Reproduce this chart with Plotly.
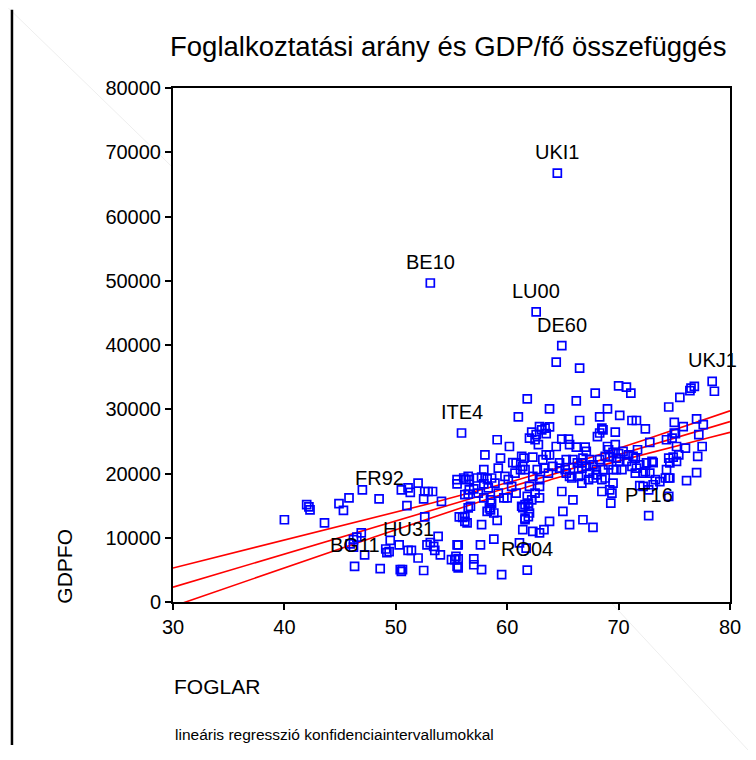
import numpy as np
import plotly.graph_objects as go

# Labelled regions (first entries of the data arrays)
label_codes = ["UKI1", "BE10", "LU00", "DE60", "UKJ1", "ITE4", "FR92", "HU31", "BG11", "RO04", "PT16"]

# FOGLAR (employment rate, %)
foglar = [
    64.5, 53.1, 62.6, 64.9, 78.4, 55.9, 48.5, 51.1, 46.3, 61.8, 72.7,
    64.4, 66.5, 78.6, 76.4, 76.5, 76.8, 75.5, 74.5, 70.0, 70.7, 71.1, 67.9, 61.8, 66.2,
    63.8, 69.0, 61.0, 66.5, 68.3, 70.1, 71.2, 71.6, 72.4, 68.5, 68.6, 68.3, 68.1, 69.7,
    62.2, 62.6, 63.1, 63.5, 63.8, 63.4, 62.9, 62.5, 62.8, 62.0, 59.1, 60.2, 58.0, 59.4,
    59.2, 60.5, 61.5, 62.3, 61.4, 63.8, 64.4, 64.9, 65.5, 65.6, 66.2, 67.0, 67.1, 72.8,
    74.3, 75.0, 75.0, 75.8, 77.0, 77.6, 77.5, 77.1, 76.0, 77.2, 75.1, 74.8, 75.2,
    69.1, 69.5, 70.0, 70.4, 70.9, 71.3, 71.7, 71.5, 69.8, 69.2, 70.1, 70.7,
    74.5, 74.9, 75.4, 74.6, 75.2, 74.3, 73.1, 71.9, 72.4, 72.8, 73.3, 73.7, 74.5, 76.1,
    77.0, 74.5, 71.9, 72.2, 66.4, 66.7, 67.1, 67.4, 68.0, 68.6, 68.8, 67.7, 67.3, 68.5,
    69.2, 69.4, 69.3, 65.8, 66.7, 65.9, 64.9, 65.0, 63.8, 63.3, 62.3, 61.4, 61.6, 61.9,
    62.2, 62.9, 62.5, 66.8, 67.7, 65.6, 58.8, 59.5, 57.7, 57.0, 57.0, 55.6, 55.6, 55.6,
    55.3, 57.6, 59.1, 57.7, 56.4, 56.2, 56.2, 56.7, 58.2, 58.6, 58.5, 57.9,
    40.0, 42.0, 42.2, 42.3, 43.6, 44.9, 45.8, 45.3, 47.0, 50.5, 51.1, 51.3, 52.0, 51.0,
    52.6, 52.9, 53.3, 52.5, 54.1, 55.5, 56.1, 56.3, 56.5, 56.5, 56.0, 56.2, 52.6, 55.7,
    46.9, 46.5, 46.2, 45.9, 46.2, 47.2, 48.6, 49.5, 49.1, 49.2, 49.4, 50.3, 51.4, 52.0,
    50.4, 50.6, 50.5, 52.5, 52.8, 53.1, 53.4, 53.5, 53.8, 54.0, 55.0, 55.4, 55.5, 55.5,
    56.5, 57.3, 57.9, 58.2, 58.6, 58.9, 57.9, 57.0, 57.4, 58.3, 59.2, 60.0, 60.4, 60.8,
    61.3, 60.8, 61.6, 60.7, 59.8, 62.3, 62.9, 63.7, 62.0, 62.9, 64.1, 65.2, 65.6, 64.7,
    63.5, 63.2, 62.7, 61.2, 55.5, 56.6, 57.7, 56.6, 60.1, 58.5, 58.4, 59.7, 61.8, 61.6,
    61.4, 61.9, 68.5, 65.3, 66.4, 64.7, 63.3, 66.7, 67.7, 68.0, 65.3, 65.9, 66.8, 67.4,
    68.3, 68.8, 66.3, 69.1, 74.2, 74.6, 72.5, 73.0, 73.1, 72.7, 69.5, 69.7, 69.0, 69.5,
    69.8, 70.3, 71.2, 71.6, 71.5, 72.2, 58.8, 61.3, 61.6, 61.9, 62.0, 62.9, 61.1, 61.7,
]

# GDPFO (GDP per capita)
gdpfo = [
    66750, 49650, 45150, 39900, 34350, 26300, 16050, 8050, 5550, 4950, 13450,
    37350, 36400, 32800, 32900, 33300, 33550, 31850, 30350, 33650, 33450, 32500, 32500, 31600, 31300,
    30050, 30050, 28800, 28250, 28800, 29050, 28250, 28250, 26950, 27050, 26800, 26300, 25750, 26450,
    26450, 26050, 26800, 26200, 27250, 27050, 27300, 25250, 24500, 25500, 25250, 24200, 22900, 22400,
    20850, 21700, 22400, 22550, 21100, 22900, 24200, 25350, 25350, 24500, 24100, 24100, 23450, 24850,
    25250, 26300, 27950, 27300, 28500, 27600, 24200, 22650, 23950, 26050, 26200, 25500, 24200,
    23700, 23300, 23100, 23450, 22900, 22650, 23700, 22400, 22400, 22650, 21900, 21900,
    22400, 22550, 22900, 21650, 21900, 20600, 21700, 21350, 20300, 20050, 19050, 18750, 19300, 18900,
    20150, 16450, 18100, 18000, 20700, 21650, 21100, 20050, 20600, 20600, 19300, 19300, 19050, 17200,
    17450, 16950, 15400, 19300, 18500, 15900, 17200, 14100, 12550, 11250, 11000, 11250, 13050, 14900,
    15900, 16200, 16950, 12800, 11600, 12050, 9800, 4250, 5050, 6700, 5800, 8900, 6700, 5300,
    6600, 8900, 12700, 12050, 12300, 13300, 16700, 14900, 14100, 15400, 14350, 16200,
    12800, 15150, 14800, 14350, 12300, 15300, 16200, 14250, 17450, 17450, 17750, 17050, 18500, 15000,
    17200, 17200, 17200, 16050, 15650, 18400, 19300, 19050, 16800, 14650, 13150, 12550, 13250, 13250,
    10750, 10100, 9700, 9050, 8550, 7350, 5200, 9600, 8250, 7700, 7850, 8900, 8050, 6850,
    5050, 5050, 4750, 4900, 8900, 9250, 8650, 8050, 10200, 7350, 6600, 7100, 5550, 8900,
    19550, 19300, 20600, 19150, 19300, 18500, 18400, 17600, 16950, 17750, 16950, 16200, 18000, 16950,
    22650, 21650, 20600, 20050, 19550, 19550, 19050, 20050, 18000, 18000, 21100, 20600, 19550, 21650,
    22900, 22150, 20600, 20600, 19050, 19050, 19450, 17450, 19050, 15900, 14650, 16200, 16450, 15150,
    14700, 13300, 19050, 20050, 19550, 20850, 20850, 20850, 21350, 19800, 22150, 22150, 22400, 22150,
    22150, 22650, 21650, 21350, 19300, 19300, 21650, 21900, 18250, 17450, 18500, 24500, 24200, 20600,
    20600, 20600, 21100, 20850, 20050, 20050, 13850, 14900, 12800, 15400, 13850, 10750, 9200, 8400,
]

x_range = [30, 80]
y_range = [0, 80000]
x_ticks = [30, 40, 50, 60, 70, 80]
y_ticks = [0, 10000, 20000, 30000, 40000, 50000, 60000, 70000, 80000]

x = np.array(foglar, dtype=float)
y = np.array(gdpfo, dtype=float)
n = len(x)
b1, b0 = np.polyfit(x, y, 1)
resid = y - (b0 + b1 * x)
s = np.sqrt(np.sum(resid ** 2) / (n - 2))
sxx = np.sum((x - x.mean()) ** 2)
t_crit = 1.968
xs = np.linspace(x_range[0], x_range[1], 201)
fit = b0 + b1 * xs
half = t_crit * s * np.sqrt(1.0 / n + (xs - x.mean()) ** 2 / sxx)

fig = go.Figure()
line_style = dict(color="#ff0000", width=1.6)
for yy in (fit + half, fit, fit - half):
    fig.add_trace(go.Scatter(x=xs, y=yy, mode="lines", line=line_style,
                             hoverinfo="skip", showlegend=False))

fig.add_trace(go.Scatter(
    x=foglar, y=gdpfo, mode="markers",
    marker=dict(symbol="square-open", size=8, color="#0000ff",
                line=dict(color="#0000ff", width=1.7)),
    showlegend=False,
))

font_family = "Arial, Liberation Sans, sans-serif"

annotations = []
for i, code in enumerate(label_codes):
    annotations.append(dict(
        x=foglar[i], y=gdpfo[i], xref="x", yref="y", text=code,
        showarrow=False, yshift=21, xanchor="center", yanchor="middle",
        font=dict(family=font_family, size=20, color="#000000"),
    ))

annotations += [
    dict(text="Foglalkoztatási arány és GDP/fő összefüggés", x=0.4946, y=1.0803,
         xref="paper", yref="paper", showarrow=False, xanchor="center", yanchor="middle",
         font=dict(family=font_family, size=27.5, color="#000000")),
    dict(text="FOGLAR", x=-0.0018, y=-0.1648, xref="paper", yref="paper",
         showarrow=False, xanchor="left", yanchor="middle",
         font=dict(family=font_family, size=21, color="#000000")),
    dict(text="GDPFO", x=-0.1939, y=0.0706, xref="paper", yref="paper",
         showarrow=False, xanchor="center", yanchor="middle", textangle=-90,
         font=dict(family=font_family, size=21, color="#000000")),
    dict(text="lineáris regresszió konfidenciaintervallumokkal", x=0.0, y=-0.258,
         xref="paper", yref="paper", showarrow=False, xanchor="left", yanchor="middle",
         font=dict(family=font_family, size=15.5, color="#000000")),
]

shapes = [
    # left page border line
    dict(type="line", xref="paper", yref="paper", x0=-0.2891, x1=-0.2891, y0=1.152, y1=-0.278,
         line=dict(color="#000000", width=2.5)),
    # faint scan diagonals
    dict(type="line", xref="paper", yref="paper", x0=-0.296, y0=1.156, x1=-0.002, y1=0.847,
         line=dict(color="rgba(0,0,0,0.07)", width=1), layer="below"),
    dict(type="line", xref="paper", yref="paper", x0=0.7864, y0=-0.001, x1=1.047, y1=-0.305,
         line=dict(color="rgba(0,0,0,0.07)", width=1), layer="below"),
]

axis_common = dict(
    showline=True, linecolor="#000000", linewidth=2, mirror=True,
    ticks="outside", ticklen=6, tickwidth=1.5, tickcolor="#000000",
    showgrid=False, zeroline=False,
    tickfont=dict(family=font_family, size=20, color="#000000"),
)

# The page body adds an 8px offset, so the figure is sized to fit the window.
fig.update_layout(
    width=748, height=752,
    margin=dict(l=165, r=26, t=80, b=158, pad=0),
    paper_bgcolor="#ffffff", plot_bgcolor="#ffffff",
    xaxis=dict(range=x_range, tickvals=x_ticks, **axis_common),
    yaxis=dict(range=y_range, tickvals=y_ticks, tickformat="d", **axis_common),
    annotations=annotations,
    shapes=shapes,
    showlegend=False,
)

fig.write_html("out.html")
